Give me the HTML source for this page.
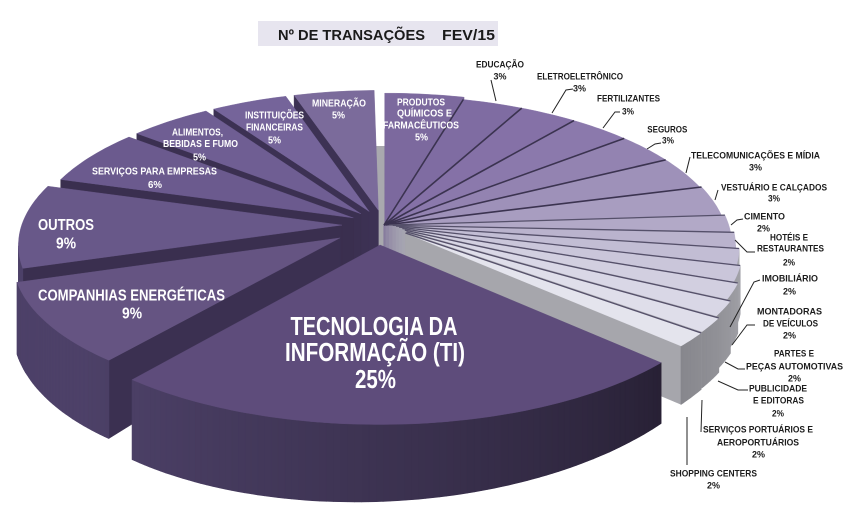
<!DOCTYPE html>
<html>
<head>
<meta charset="utf-8">
<style>
html,body{margin:0;padding:0;background:#fff;}
svg{display:block;}
text{font-family:"Liberation Sans",sans-serif;font-weight:bold;}
.b{fill:#1c1c1c;font-size:9.5px;}
.w{fill:#ffffff;font-size:10px;}
</style>
</head>
<body>
<svg id="chart" width="855" height="520" viewBox="0 0 855 520" xmlns="http://www.w3.org/2000/svg">
<rect x="0" y="0" width="855" height="520" fill="#ffffff"/>
<rect x="258" y="21" width="240" height="25" fill="#e7e5ef"/>
<text x="278" y="40" font-size="15" fill="#1a1a1a" textLength="147" lengthAdjust="spacingAndGlyphs">Nº DE TRANSAÇÕES</text>
<text x="442" y="40" font-size="15" fill="#1a1a1a" textLength="53" lengthAdjust="spacingAndGlyphs">FEV/15</text>

<rect x="375" y="146" width="10" height="104" fill="#a9a9ae"/>
<g id="pie"></g>

<g fill="none" stroke="#222" stroke-width="1">
<polyline points="491,80 496,101"/>
<polyline points="573,89 566,90 552,113"/>
<polyline points="620,112 615,112 603,128"/>
<polyline points="661,143 655,144 647,149"/>
<polyline points="690,157 686,173"/>
<polyline points="718,190 715,200"/>
<polyline points="743,219 737,220 731,225"/>
<polyline points="755,252 747,252 735,240"/>
<polyline points="760,280 754,282 730,327"/>
<polyline points="755,325 747,325 732,345"/>
<polyline points="745,369 738,369 725,362"/>
<polyline points="748,390 738,390 718,381"/>
<polyline points="701,432 702,400"/>
<polyline points="687,465 687,417"/>
</g>

<g text-anchor="middle">
<text class="b" x="500" y="67.4" textLength="48" lengthAdjust="spacingAndGlyphs">EDUCAÇÃO</text>
<text class="b" x="500" y="79.4" textLength="13" lengthAdjust="spacingAndGlyphs">3%</text>
<text class="b" x="580" y="79.4" textLength="86" lengthAdjust="spacingAndGlyphs">ELETROELETRÔNICO</text>
<text class="b" x="579.5" y="91.4" textLength="13" lengthAdjust="spacingAndGlyphs">3%</text>
<text class="b" x="628.5" y="101.4" textLength="63" lengthAdjust="spacingAndGlyphs">FERTILIZANTES</text>
<text class="b" x="628" y="114.4" textLength="12" lengthAdjust="spacingAndGlyphs">3%</text>
<text class="b" x="667.3" y="132.4" textLength="40" lengthAdjust="spacingAndGlyphs">SEGUROS</text>
<text class="b" x="668" y="143.4" textLength="12" lengthAdjust="spacingAndGlyphs">3%</text>
<text class="b" x="755.5" y="158.4" textLength="129" lengthAdjust="spacingAndGlyphs">TELECOMUNICAÇÕES E MÍDIA</text>
<text class="b" x="755.5" y="170.4" textLength="13" lengthAdjust="spacingAndGlyphs">3%</text>
<text class="b" x="774" y="190.4" textLength="106" lengthAdjust="spacingAndGlyphs">VESTUÁRIO E CALÇADOS</text>
<text class="b" x="774" y="201.4" textLength="12" lengthAdjust="spacingAndGlyphs">3%</text>
<text class="b" x="764.5" y="219.4" textLength="41" lengthAdjust="spacingAndGlyphs">CIMENTO</text>
<text class="b" x="763.5" y="231.4" textLength="13" lengthAdjust="spacingAndGlyphs">2%</text>
<text class="b" x="789" y="240.4" textLength="38" lengthAdjust="spacingAndGlyphs">HOTÉIS E</text>
<text class="b" x="790.5" y="251.4" textLength="67" lengthAdjust="spacingAndGlyphs">RESTAURANTES</text>
<text class="b" x="789" y="265.4" textLength="12" lengthAdjust="spacingAndGlyphs">2%</text>
<text class="b" x="790" y="281.4" textLength="56" lengthAdjust="spacingAndGlyphs">IMOBILIÁRIO</text>
<text class="b" x="789.5" y="294.4" textLength="13" lengthAdjust="spacingAndGlyphs">2%</text>
<text class="b" x="789.5" y="314.4" textLength="65" lengthAdjust="spacingAndGlyphs">MONTADORAS</text>
<text class="b" x="790.5" y="326.4" textLength="55" lengthAdjust="spacingAndGlyphs">DE VEÍCULOS</text>
<text class="b" x="789.5" y="338.4" textLength="13" lengthAdjust="spacingAndGlyphs">2%</text>
<text class="b" x="794" y="356.4" textLength="40" lengthAdjust="spacingAndGlyphs">PARTES E</text>
<text class="b" x="794.5" y="369.4" textLength="97" lengthAdjust="spacingAndGlyphs">PEÇAS AUTOMOTIVAS</text>
<text class="b" x="794.5" y="381.4" textLength="13" lengthAdjust="spacingAndGlyphs">2%</text>
<text class="b" x="778" y="391.4" textLength="58" lengthAdjust="spacingAndGlyphs">PUBLICIDADE</text>
<text class="b" x="778.5" y="403.4" textLength="51" lengthAdjust="spacingAndGlyphs">E EDITORAS</text>
<text class="b" x="778" y="416.4" textLength="12" lengthAdjust="spacingAndGlyphs">2%</text>
<text class="b" x="758" y="432.4" textLength="110" lengthAdjust="spacingAndGlyphs">SERVIÇOS PORTUÁRIOS E</text>
<text class="b" x="758" y="445.4" textLength="82" lengthAdjust="spacingAndGlyphs">AEROPORTUÁRIOS</text>
<text class="b" x="758.5" y="457.4" textLength="13" lengthAdjust="spacingAndGlyphs">2%</text>
<text class="b" x="713.5" y="476.4" textLength="87" lengthAdjust="spacingAndGlyphs">SHOPPING CENTERS</text>
<text class="b" x="713.5" y="488.4" textLength="13" lengthAdjust="spacingAndGlyphs">2%</text>

<text class="w" x="421" y="105.6" textLength="48" lengthAdjust="spacingAndGlyphs">PRODUTOS</text>
<text class="w" x="424.5" y="116.6" textLength="55" lengthAdjust="spacingAndGlyphs">QUÍMICOS E</text>
<text class="w" x="421" y="128.6" textLength="76" lengthAdjust="spacingAndGlyphs">FARMACÊUTICOS</text>
<text class="w" x="421.5" y="140.6" textLength="13" lengthAdjust="spacingAndGlyphs">5%</text>
<text class="w" x="339" y="106.6" textLength="54" lengthAdjust="spacingAndGlyphs">MINERAÇÃO</text>
<text class="w" x="338.5" y="118.6" textLength="13" lengthAdjust="spacingAndGlyphs">5%</text>
<text class="w" x="274.5" y="118.6" textLength="59" lengthAdjust="spacingAndGlyphs">INSTITUIÇÕES</text>
<text class="w" x="274.5" y="130.6" textLength="57" lengthAdjust="spacingAndGlyphs">FINANCEIRAS</text>
<text class="w" x="274.5" y="143.6" textLength="13" lengthAdjust="spacingAndGlyphs">5%</text>
<text class="w" x="197.5" y="135.3" textLength="51" lengthAdjust="spacingAndGlyphs">ALIMENTOS,</text>
<text class="w" x="200.5" y="146.9" textLength="75" lengthAdjust="spacingAndGlyphs">BEBIDAS E FUMO</text>
<text class="w" x="199.5" y="160.3" textLength="13" lengthAdjust="spacingAndGlyphs">5%</text>
<text class="w" x="154.5" y="174.3" textLength="125" lengthAdjust="spacingAndGlyphs">SERVIÇOS PARA EMPRESAS</text>
<text class="w" x="155" y="187.9" textLength="14" lengthAdjust="spacingAndGlyphs">6%</text>
<text x="66" y="230" font-size="16" fill="#fff" textLength="56" lengthAdjust="spacingAndGlyphs">OUTROS</text>
<text x="66" y="248.3" font-size="16" fill="#fff" textLength="20" lengthAdjust="spacingAndGlyphs">9%</text>
<text x="131.5" y="300.7" font-size="15.5" fill="#fff" textLength="187" lengthAdjust="spacingAndGlyphs">COMPANHIAS ENERGÉTICAS</text>
<text x="132" y="318.3" font-size="15.5" fill="#fff" textLength="20" lengthAdjust="spacingAndGlyphs">9%</text>
<text x="374" y="335" font-size="25.5" fill="#fff" textLength="167" lengthAdjust="spacingAndGlyphs">TECNOLOGIA DA</text>
<text x="375" y="361" font-size="25.5" fill="#fff" textLength="180" lengthAdjust="spacingAndGlyphs">INFORMAÇÃO (TI)</text>
<text x="375.5" y="388" font-size="25.5" fill="#fff" textLength="41" lengthAdjust="spacingAndGlyphs">25%</text>
</g>
</svg>

<script>
(function(){
var NS='http://www.w3.org/2000/svg';
var G=document.getElementById('pie');
var cx=384,cy=225,A=350,B=151.4,k=0.138,D=1/k;
function P(u,v,z){var s=1/(1+k*v);return [cx+A*u*s, cy-B*v*s+z*(55-10*u)*s*s];}
function rad(d){return d*Math.PI/180;}
function hex(h){return [parseInt(h.substr(1,2),16),parseInt(h.substr(3,2),16),parseInt(h.substr(5,2),16)];}
function mix(h1,h2,t){var a=hex(h1),b=hex(h2);return 'rgb('+Math.round(a[0]+(b[0]-a[0])*t)+','+Math.round(a[1]+(b[1]-a[1])*t)+','+Math.round(a[2]+(b[2]-a[2])*t)+')';}
function poly(pts,fill,stroke,sw){
  var p=document.createElementNS(NS,'polygon');
  p.setAttribute('points',pts.map(function(q){return q[0].toFixed(1)+','+q[1].toFixed(1);}).join(' '));
  p.setAttribute('fill',fill);
  if(stroke){p.setAttribute('stroke',stroke);p.setAttribute('stroke-width',sw);p.setAttribute('stroke-linejoin','round');}
  G.appendChild(p);
}
function line(p1,p2,col,w){
  var l=document.createElementNS(NS,'line');
  l.setAttribute('x1',p1[0].toFixed(1));l.setAttribute('y1',p1[1].toFixed(1));
  l.setAttribute('x2',p2[0].toFixed(1));l.setAttribute('y2',p2[1].toFixed(1));
  l.setAttribute('stroke',col);l.setAttribute('stroke-width',w);
  G.appendChild(l);
}
var S=[
 {a:0,b:15.3,e:.02,R:.97,top:'#7c699e',face:'#6a5a88',g:'R'},
 {a:15.3,b:27,e:0,R:.97,top:'#7f6ca2',face:'#6c5c8a',g:'R'},
 {a:27,b:38.2,e:0,R:.97,top:'#8571a7',face:'#71618e',g:'R'},
 {a:38.2,b:50.2,e:0,R:.97,top:'#8b79ac',face:'#776893',g:'R'},
 {a:50.2,b:61.9,e:0,R:.97,top:'#9383b1',face:'#7e7098',g:'R'},
 {a:61.9,b:74.5,e:0,R:.97,top:'#9e91b9',face:'#877c9e',g:'R'},
 {a:74.5,b:86.1,e:.005,R:.97,top:'#a89dc0',face:'#9088a4',g:'R'},
 {a:86.1,b:92.7,e:.015,R:.97,top:'#b2a9c7',face:'#9790a8',g:'R'},
 {a:92.7,b:98.6,e:.025,R:.97,top:'#bab3cd',face:'#9c97ab',g:'R'},
 {a:98.6,b:104.6,e:.035,R:.97,top:'#c2bdd4',face:'#a09dae',g:'R'},
 {a:104.6,b:110.6,e:.045,R:.97,top:'#cac6da',face:'#a3a1b0',g:'R'},
 {a:110.6,b:116.7,e:.057,R:.97,top:'#d2cfe0',face:'#a5a4b0',g:'R'},
 {a:116.7,b:122.5,e:.068,R:.97,top:'#d9d7e6',face:'#a6a5af',g:'R'},
 {a:122.5,b:128,e:.078,R:.97,top:'#dfdeea',face:'#a6a6ae',g:'R'},
 {a:128,b:133.5,e:.08,R:.97,top:'#e4e4ed',face:'#a6a6ac',g:'R'},
 {a:133.5,b:219,c:[-.011,-.13],R:.985,top:'#5e4c7b',face:'#2e2640',g:'T'},
 {a:219,b:252.5,e:.15,R:.915,top:'#655482',face:'#3b3051',g:'L'},
 {a:252.5,b:286.9,e:.12,R:.915,top:'#685889',face:'#3a2f4f',g:'L'},
 {a:286.9,b:309.7,e:.1,R:.915,top:'#6b5a8e',face:'#3a2f4f',g:'L'},
 {a:309.7,b:326.8,e:.1,R:.915,top:'#6f5e93',face:'#3b3051',g:'L'},
 {a:326.8,b:342.5,e:.1,R:.915,top:'#75649a',face:'#3c3153',g:'L'},
 {a:342.5,b:359,e:.1,R:.915,top:'#7b6b9b',face:'#3d3254',g:'L'}
];
S.forEach(function(s){
  var m=rad((s.a+s.b)/2);
  if(!s.c){s.c=[s.e*Math.sin(m),s.e*Math.cos(m)];}
  s.key=s.c[1]+0.5*s.R*Math.cos(m);
});
function rim(s,t,z){return P(s.c[0]+s.R*Math.sin(rad(t)), s.c[1]+s.R*Math.cos(rad(t)), z);}
function wallCol(s,t){
  if(s.g==='R'){var b=Math.round(170-(t-98)*1.0);b=Math.max(120,Math.min(172,b));return 'rgb('+b+','+b+','+(b+6)+')';}
  var q=(t-133)/(225-133);q=Math.max(0,Math.min(1,q));q=Math.pow(q,0.85);
  return mix('#272034','#4d4168',q);
}
function drawSlice(s){
  var c=s.c, a=s.a, b=s.b;
  var na=[-Math.cos(rad(a)),Math.sin(rad(a))];
  var nb=[Math.cos(rad(b)),-Math.sin(rad(b))];
  function vis(n){return (-c[0])*n[0]+(-D-c[1])*n[1]>0;}
  var C0=P(c[0],c[1],0),C1=P(c[0],c[1],1);
  if(vis(na)){poly([C0,rim(s,a,0),rim(s,a,1),C1],s.face,s.face,0.5);}
  if(vis(nb)){poly([C0,rim(s,b,0),rim(s,b,1),C1],s.face,s.face,0.5);}
  for(var t=a;t<b-1e-6;t+=1){
    var t2=Math.min(b,t+1), tm=(t+t2)/2;
    var nu=Math.sin(rad(tm)), nv=Math.cos(rad(tm));
    var pu=c[0]+s.R*nu, pv=c[1]+s.R*nv;
    if((-pu)*nu+(-D-pv)*nv<=0) continue;
    var col=wallCol(s,tm);
    poly([rim(s,t,0),rim(s,t2,0),rim(s,t2,1),rim(s,t,1)],col,col,0.7);
  }
  var pts=[C0];
  for(var t3=a;t3<b;t3+=1){pts.push(rim(s,t3,0));}
  pts.push(rim(s,b,0));
  poly(pts,s.top,s.top,0.4);
}
var order=S.slice().sort(function(x,y){return y.key-x.key;});
var ti=null;
order.forEach(function(s){ if(s.g==='T'){ti=s;return;} drawSlice(s); });
S.forEach(function(s,i){
  if(s.g!=='R'||i===0) return;
  var col=(s.a<86)?'#3b3350':'#55506a';
  var w=(s.a<86)?1.6:1.3;
  line(P(s.c[0],s.c[1],0), rim(s,s.a,0), col, w);
});
if(ti) drawSlice(ti);
})();
</script>
</body>
</html>
